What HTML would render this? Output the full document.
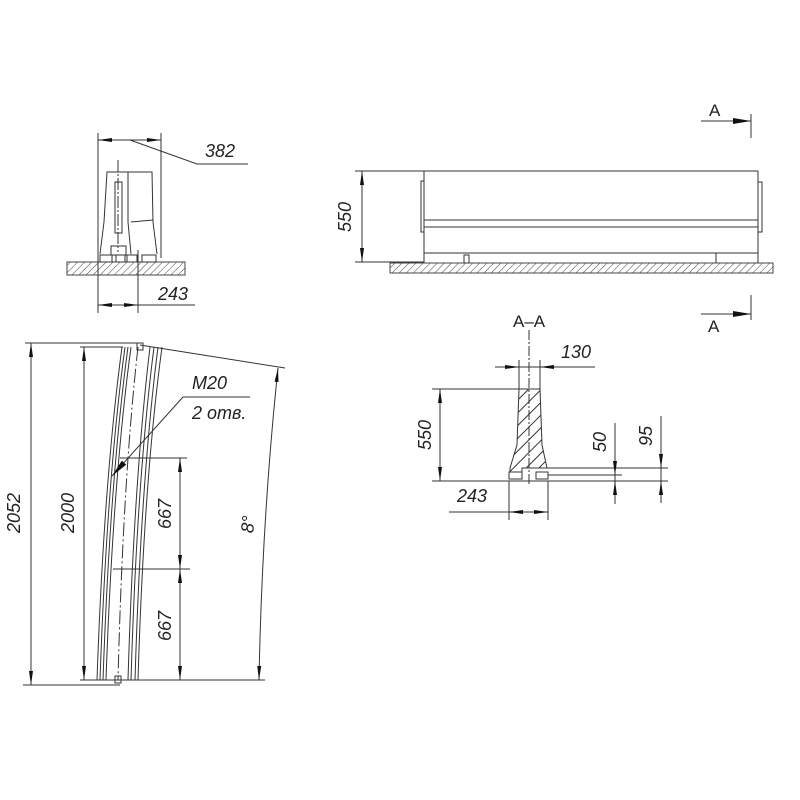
<!DOCTYPE html>
<html><head><meta charset="utf-8"><style>
html,body{margin:0;padding:0;background:#fff;}
svg{display:block;}
text{font-family:"Liberation Sans",sans-serif;font-style:italic;fill:#222;}
</style></head><body>
<svg width="800" height="800" viewBox="0 0 800 800" xmlns="http://www.w3.org/2000/svg">
<defs>
<pattern id="h" width="5" height="5" patternUnits="userSpaceOnUse" patternTransform="rotate(45)">
<rect width="5" height="5" fill="#fff"/><line x1="0" y1="0" x2="0" y2="5" stroke="#444" stroke-width="1"/>
</pattern>
<pattern id="h2" width="9" height="9" patternUnits="userSpaceOnUse" patternTransform="rotate(45)">
<line x1="1" y1="0" x2="1" y2="9" stroke="#333" stroke-width="1"/>
</pattern>
<marker id="a" viewBox="0 0 14 5" refX="14" refY="2.5" markerWidth="14" markerHeight="5" orient="auto-start-reverse" markerUnits="userSpaceOnUse">
<path d="M0,0.5 L14,2.5 L0,4.5z" fill="#111"/></marker>
<marker id="b" viewBox="0 0 18 6" refX="18" refY="3" markerWidth="18" markerHeight="6" orient="auto" markerUnits="userSpaceOnUse">
<path d="M0,0 L18,3 L0,6z" fill="#111"/></marker>
</defs>
<g stroke="#333" stroke-width="1" fill="none">
<!-- Top-left view -->
<rect x="67" y="262" width="118" height="13" fill="url(#h)" stroke="#444"/>
<line x1="98" y1="133" x2="98" y2="313"/>
<line x1="161" y1="133" x2="161" y2="258"/>
<line x1="98" y1="140" x2="161" y2="140" marker-start="url(#a)" marker-end="url(#a)"/>
<polyline points="130,140 197,164 248,164"/>
<line x1="138" y1="250" x2="138" y2="313"/>
<line x1="98" y1="305" x2="138" y2="305" marker-start="url(#a)" marker-end="url(#a)"/>
<line x1="138" y1="305" x2="195" y2="305"/>
<polyline points="100,254 104,222 107,172 152,172 153,222 157,254"/>
<polyline points="128,172 128,222 131,254"/>
<polyline points="131,222 153,220"/>
<rect x="115" y="182" width="7" height="51"/>
<line x1="118" y1="160" x2="118" y2="252" stroke-dasharray="12,2,2,2"/>
<rect x="111" y="246" width="15" height="9"/>
<rect x="100" y="255" width="12" height="7"/>
<rect x="116" y="255" width="9" height="7"/>
<rect x="127" y="255" width="10" height="7"/>
<rect x="142" y="255" width="14" height="7"/>
<!-- Top-right view -->
<rect x="390" y="263" width="383" height="10" fill="url(#h)" stroke="#444"/>
<line x1="355" y1="171" x2="758" y2="171"/>
<line x1="355" y1="262" x2="424" y2="262"/>
<line x1="362" y1="171" x2="362" y2="262" marker-start="url(#a)" marker-end="url(#a)"/>
<line x1="424" y1="171" x2="424" y2="263"/>
<line x1="758" y1="171" x2="758" y2="263"/>
<rect x="421" y="181" width="3" height="51"/>
<rect x="758" y="182" width="4" height="50"/>
<line x1="424" y1="220" x2="758" y2="220"/>
<line x1="424" y1="227" x2="758" y2="227"/>
<line x1="424" y1="253" x2="758" y2="253"/>
<rect x="464" y="255" width="5" height="8"/>
<line x1="716" y1="253" x2="716" y2="263"/>
<line x1="701" y1="121" x2="751" y2="121" marker-end="url(#b)"/>
<line x1="751" y1="114" x2="751" y2="138"/>
<line x1="701" y1="314" x2="751" y2="314" marker-end="url(#b)"/>
<line x1="751" y1="295" x2="751" y2="320"/>
<!-- Section A-A -->
<path d="M519,389 L540,389 L542,445 L547,468 L522,468 L522,473 L510,473 L510,468 L517,445 Z" fill="url(#h2)"/>
<line x1="522" y1="468" x2="668" y2="468"/>
<rect x="509" y="472" width="13" height="7" fill="#fff"/>
<rect x="536" y="472" width="12" height="7" fill="#fff"/>
<line x1="529" y1="330" x2="529" y2="484" stroke-dasharray="10,2,2,2"/>
<line x1="519" y1="360" x2="519" y2="389"/>
<line x1="540" y1="360" x2="540" y2="389"/>
<line x1="495" y1="367" x2="519" y2="367" marker-end="url(#a)"/>
<line x1="595" y1="367" x2="540" y2="367" marker-end="url(#a)"/>
<line x1="519" y1="367" x2="540" y2="367"/>
<line x1="432" y1="389" x2="519" y2="389"/>
<line x1="432" y1="481" x2="668" y2="481"/>
<line x1="440" y1="389" x2="440" y2="481" marker-start="url(#a)" marker-end="url(#a)"/>
<line x1="548" y1="475" x2="622" y2="475"/>
<line x1="509" y1="481" x2="509" y2="520"/>
<line x1="548" y1="481" x2="548" y2="520"/>
<line x1="449" y1="512" x2="509" y2="512"/>
<line x1="509" y1="512" x2="548" y2="512" marker-start="url(#a)" marker-end="url(#a)"/>
<line x1="615" y1="423" x2="615" y2="475" marker-end="url(#a)"/>
<line x1="615" y1="504" x2="615" y2="481" marker-end="url(#a)"/>
<line x1="615" y1="475" x2="615" y2="481"/>
<line x1="661" y1="416" x2="661" y2="468" marker-end="url(#a)"/>
<line x1="661" y1="503" x2="661" y2="481" marker-end="url(#a)"/>
<line x1="661" y1="468" x2="661" y2="481"/>
<!-- Side view -->
<line x1="25" y1="343" x2="140" y2="343"/>
<line x1="80" y1="347" x2="123" y2="347"/>
<line x1="23" y1="685" x2="120" y2="685"/>
<line x1="80" y1="680" x2="265" y2="680"/>
<line x1="31" y1="343" x2="31" y2="685" marker-start="url(#a)" marker-end="url(#a)"/>
<line x1="84" y1="347" x2="84" y2="680" marker-start="url(#a)" marker-end="url(#a)"/>
<path d="M122,347 Q104,480 97,680"/>
<path d="M125,347 Q107,480 100,680"/>
<path d="M128,347 Q110,480 103,680"/>
<path d="M131,347 Q113,480 106,680"/>
<path d="M138,347 Q123,480 118,680" stroke-dasharray="14,3,2,3"/>
<path d="M150,347 Q134,480 128,680"/>
<path d="M154,347 Q137,480 131,680"/>
<path d="M158,347 Q141,480 135,680"/>
<path d="M162,347 Q144,480 138,680"/>
<rect x="137" y="343" width="6" height="7"/>
<rect x="115" y="676" width="6" height="7"/>
<line x1="140" y1="345" x2="285" y2="368"/>
<path d="M278,368 Q262,520 259,680" marker-start="url(#a)" marker-end="url(#a)"/>
<line x1="120" y1="458" x2="187" y2="458"/>
<line x1="113" y1="569" x2="190" y2="569"/>
<line x1="180" y1="458" x2="180" y2="569" marker-start="url(#a)" marker-end="url(#a)"/>
<line x1="180" y1="569" x2="180" y2="680" marker-start="url(#a)" marker-end="url(#a)"/>
<line x1="183" y1="397" x2="112" y2="476" marker-end="url(#b)"/>
<line x1="183" y1="397" x2="250" y2="397"/>
</g>
<g font-size="18">
<text x="205" y="157">382</text>
<text x="158" y="300">243</text>
<text x="709" y="116" style="font-style:normal" font-size="17">A</text>
<text x="708" y="332" style="font-style:normal" font-size="17">A</text>
<text x="513" y="327" style="font-style:normal" font-size="17">A–A</text>
<text transform="translate(351,217) rotate(-90)" text-anchor="middle">550</text>
<text x="561" y="358">130</text>
<text transform="translate(431,435) rotate(-90)" text-anchor="middle">550</text>
<text x="457" y="502">243</text>
<text transform="translate(606,442) rotate(-90)" text-anchor="middle">50</text>
<text transform="translate(652,436) rotate(-90)" text-anchor="middle">95</text>
<text transform="translate(20,513) rotate(-90)" text-anchor="middle">2052</text>
<text transform="translate(74,513) rotate(-90)" text-anchor="middle">2000</text>
<text transform="translate(171,514) rotate(-90)" text-anchor="middle">667</text>
<text transform="translate(171,626) rotate(-90)" text-anchor="middle">667</text>
<text transform="translate(254,525) rotate(-84)" text-anchor="middle">8°</text>
<text x="192" y="389">M20</text>
<text x="192" y="419">2 отв.</text>
</g>
</svg>
</body></html>
